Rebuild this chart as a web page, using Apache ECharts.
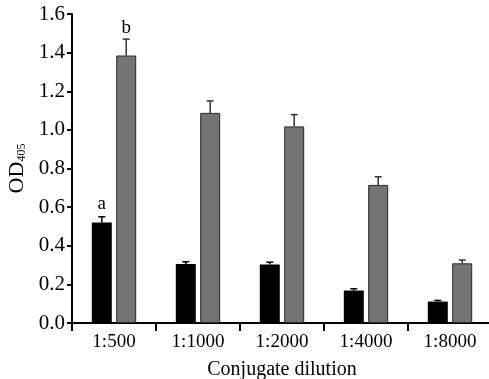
<!DOCTYPE html>
<html>
<head>
<meta charset="utf-8">
<script src="https://cdn.jsdelivr.net/npm/echarts@6/dist/echarts.min.js"></script>
<style>
  html, body { margin: 0; padding: 0; background: #fff; }
  #chart { width: 489px; height: 379px; }
</style>
</head>
<body>
<div id="chart"></div>
<script>
// 稀释度
var dilutions = ['1:500', '1:1000', '1:2000', '1:4000', '1:8000'];
// 黑色柱
var blackVals = [0.52, 0.305, 0.303, 0.168, 0.111];
var blackErr = [0.55, 0.317, 0.315, 0.177, 0.117];
var blackLetters = ['a', '', '', '', ''];
// 灰色柱
var grayVals = [1.385, 1.088, 1.018, 0.715, 0.309];
var grayErr = [1.47, 1.15, 1.079, 0.757, 0.326];
var grayLetters = ['b', '', '', '', ''];

var FONT = '"Liberation Serif", "Times New Roman", serif';
var BAR_W = 20;
var GAP = 4.4;
var OFF = (BAR_W + GAP) / 2;

function withLetters(vals, letters, dist) {
  return vals.map(function (v, i) {
    if (!letters[i]) return v;
    return {
      value: v,
      label: {
        show: true, position: 'top', distance: dist, formatter: letters[i],
        fontFamily: FONT, fontSize: 19, color: '#000'
      }
    };
  });
}

// 误差线，只画上半部分
function errSeries(vals, errs, offset, color) {
  return {
    type: 'custom',
    silent: true,
    z: 5,
    data: vals.map(function (v, i) { return [i, v, errs[i]]; }),
    renderItem: function (params, api) {
      var base = api.coord([api.value(0), api.value(1)]);
      var top = api.coord([api.value(0), api.value(2)]);
      var x = base[0] + offset;
      return {
        type: 'group',
        children: [
          { type: 'line', shape: { x1: x, y1: base[1], x2: x, y2: top[1] },
            style: { stroke: color, lineWidth: 1.5 } },
          { type: 'line', shape: { x1: x - 3.5, y1: top[1], x2: x + 3.5, y2: top[1] },
            style: { stroke: color, lineWidth: 1.5 } }
        ]
      };
    }
  };
}

var chart = echarts.init(document.getElementById('chart'));
var option = {
  animation: false,
  grid: { left: 72, right: -3, top: 14, bottom: 56, outerBoundsMode: 'none', containLabel: false },
  xAxis: {
    type: 'category',
    data: dilutions,
    name: 'Conjugate dilution',
    nameLocation: 'middle',
    nameGap: 37,
    nameTextStyle: { fontFamily: FONT, fontSize: 20, color: '#000' },
    axisLine: { lineStyle: { color: '#000', width: 2 } },
    axisTick: { show: true, length: 8, lineStyle: { color: '#000', width: 2 } },
    axisLabel: { fontFamily: FONT, fontSize: 19, color: '#000', margin: 10 }
  },
  yAxis: {
    type: 'value',
    min: 0,
    max: 1.6,
    interval: 0.2,
    name: '{a|OD}{b|405}',
    nameLocation: 'middle',
    nameGap: 40,
    nameRotate: 90,
    nameTextStyle: {
      rich: {
        a: { fontFamily: FONT, fontSize: 22, color: '#000' },
        b: { fontFamily: FONT, fontSize: 12, color: '#000', verticalAlign: 'bottom', padding: [8, 0, 0, 0] }
      }
    },
    splitLine: { show: false },
    axisLine: { show: true, lineStyle: { color: '#000', width: 2 } },
    axisTick: { show: true, length: 5, lineStyle: { color: '#000', width: 2 } },
    axisLabel: {
      fontFamily: FONT, fontSize: 21, color: '#000', margin: 7,
      formatter: function (v) { return v.toFixed(1); }
    }
  },
  series: [
    {
      type: 'bar',
      barWidth: BAR_W,
      barGap: (GAP / BAR_W * 100) + '%',
      itemStyle: { color: '#000' },
      data: withLetters(blackVals, blackLetters, 9)
    },
    {
      type: 'bar',
      barWidth: BAR_W,
      itemStyle: { color: '#747474', borderColor: '#2a2a2a', borderWidth: 1 },
      data: withLetters(grayVals, grayLetters, 18)
    },
    errSeries(blackVals, blackErr, -OFF, '#000'),
    errSeries(grayVals, grayErr, OFF, '#333')
  ]
};
chart.setOption(option);
</script>
</body>
</html>
